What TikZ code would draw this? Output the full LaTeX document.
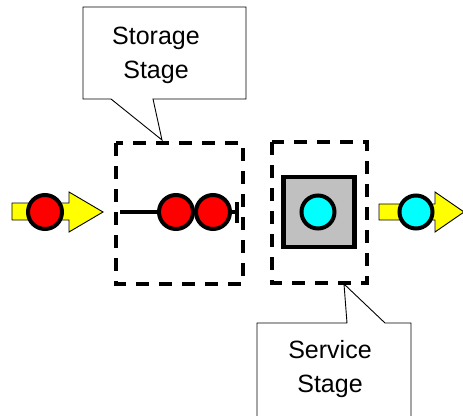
\documentclass[tikz,border=0pt]{standalone}
\usepackage{fontspec}
\setmainfont{Liberation Sans}
\definecolor{tokred}{RGB}{255,0,0}
\definecolor{tokcyan}{RGB}{0,255,255}
\definecolor{arryellow}{RGB}{255,255,0}
\definecolor{servgray}{RGB}{192,192,192}
\begin{document}
\begin{tikzpicture}[x=1pt,y=-1pt,
  stagebox/.style={draw=black,line width=4.5pt,dash pattern=on 13pt off 10pt},
  callout/.style={draw=black,fill=white,line width=0.9pt,line join=miter},
  label/.style={font=\fontsize{25}{34}\selectfont,align=center,inner sep=0pt},
  redtok/.style={circle,draw=black,line width=4pt,fill=tokred,minimum size=34pt,inner sep=0pt},
  cyantok/.style={circle,draw=black,line width=4pt,fill=tokcyan,minimum size=33pt,inner sep=0pt},
  yarrow/.style={draw=black,line width=0.9pt,fill=arryellow,line join=miter}]
\useasboundingbox (0,0) rectangle (463,415);
% storage callout
\path[callout] (83,7) -- (246,7) -- (246,99) -- (153,99) -- (162,140) -- (111,99) -- (83,99) -- cycle;
\node[label] (storagetxt) at (156,55) {Storage\\Stage};
% dashed stage boxes
\draw[stagebox] (116,143) rectangle (243,284);
\draw[stagebox] (272,142) rectangle (367,283);
% input arrow
\path[yarrow] (12,203) -- (69,203) -- (69,192) -- (103,212) -- (69,232) -- (69,220) -- (12,220) -- cycle;
\node[redtok] (intok) at (45,212) {};
% storage queue
\coordinate (qstart) at (120,212);
\coordinate (qend) at (237,212);
\draw[line width=4pt] (qstart) -- (qend);
\draw[line width=4pt] (237,202) -- (237,223);
\node[redtok] (q1) at (176,212) {};
\node[redtok] (q2) at (213,212) {};
% server
\node[draw=black,line width=4.5pt,fill=servgray,minimum width=71pt,minimum height=70pt,inner sep=0pt] (server) at (319,212) {};
\node[cyantok] (stok) at (318,212) {};
% output arrow
\path[yarrow] (379,204) -- (435,204) -- (435,192) -- (464,212) -- (435,232) -- (435,220) -- (379,220) -- cycle;
\node[cyantok] (outtok) at (416,212) {};
% service callout
\path[callout] (257,323) -- (347,323) -- (344,284) -- (385,323) -- (411,323) -- (411,420) -- (257,420) -- cycle;
\node[label] (servicetxt) at (330,369) {Service\\Stage};
\end{tikzpicture}
\end{document}
